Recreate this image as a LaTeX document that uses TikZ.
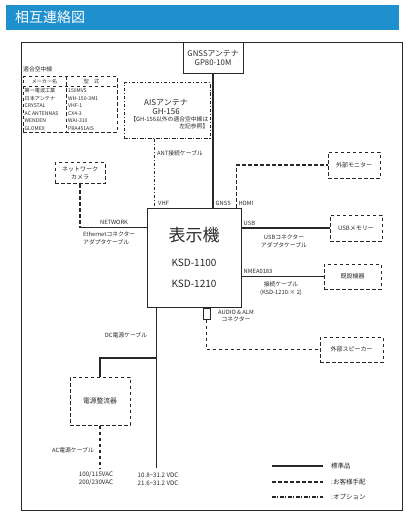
\documentclass[tikz,border=0pt]{standalone}
\usepackage{fontspec}
\setmainfont{Noto Sans CJK JP}
\usetikzlibrary{positioning}
\definecolor{barblue}{RGB}{30,144,206}
\definecolor{ink}{RGB}{40,40,40}
\tikzstyle{titlebar} = [fill=barblue, minimum width=393pt, minimum height=25pt,
  text width=375pt, inner sep=0pt, align=left, text=white, font=\fontsize{14}{14}\selectfont]
\tikzstyle{stdbox} = [draw=ink, line width=1pt, inner sep=0pt, align=center,
  text=ink, font=\fontsize{7.8}{9.5}\selectfont]
\tikzstyle{usrbox} = [stdbox, dash pattern=on 3.5pt off 2.5pt, font=\fontsize{6}{8}\selectfont]
\tikzstyle{optbox} = [stdbox, dash pattern=on 3.5pt off 1.8pt on 0.9pt off 1.8pt]
\tikzstyle{lbl} = [inner sep=0pt, align=center, text=ink, font=\fontsize{5.8}{8}\selectfont]
\tikzstyle{cell} = [inner sep=0pt, anchor=west, text=ink, font=\fontsize{5.1}{6}\selectfont]
\tikzstyle{stdline} = [draw=ink, line width=1.1pt]
\tikzstyle{usrline} = [stdline, dash pattern=on 3.5pt off 2.5pt]
\tikzstyle{optline} = [stdline, dash pattern=on 3.5pt off 1.8pt on 0.9pt off 1.8pt]
\begin{document}
\begin{tikzpicture}[x=1pt, y=-1pt]
    \useasboundingbox (0,0) rectangle (411,516);
    \node[titlebar] (title) at (202.5,17.5) {相互連絡図};
    \draw[draw=ink, line width=0.8pt] (21,42) rectangle (402,510);

    \node[stdbox, minimum width=60pt, minimum height=31pt] (gnss) at (213,58) {GNSSアンテナ\\GP80-10M};
    \node[optbox, minimum width=86pt, minimum height=55pt] (ais) at (167,110.5) {};
    \node[lbl, font=\fontsize{8}{9.5}\selectfont] (aisname) at (166,107) {AISアンテナ\\GH-156};
    \node[lbl, align=right, anchor=north east, font=\fontsize{5.8}{7}\selectfont] (aisnote) at (208.5,116.5) {【GH-156以外の適合空中線は\\左記参照】};

    \node[lbl, anchor=west] (tbltitle) at (23,69) {適合空中線};
    \node[usrbox, minimum width=94pt, minimum height=55pt] (tbl) at (70,104.5) {};
    \draw[usrline, line width=0.8pt] ([yshift=-10pt]tbl.north west) -- ([yshift=-10pt]tbl.north east);
    \draw[usrline, line width=0.8pt] ([xshift=-4pt]tbl.north) -- ([xshift=-4pt]tbl.south);
    \node[cell, anchor=center] (hmaker) at (44.5,82) {メーカー名};
    \node[cell, anchor=center] (hmodel) at (91.5,82) {型\quad 式};
    \foreach \mk/\md [count=\i] in {第一電波工業/150MVS, 日本アンテナ/WH-150-3M1, CRYSTAL/VHF-1,
        AC ANTENNAS/CX4-3, WENDEN/WAI-310, GLOMEX/PRA451AIS}
      {
        \node[cell] (maker\i) at (24.5,{83.25+7.5*\i}) {\mk};
        \node[cell] (model\i) at (68,{83.25+7.5*\i}) {\md};
      }

    \node[stdbox, minimum width=94pt, minimum height=99pt, font=\fontsize{10}{21}\selectfont] (disp) at (194,257.5)
      {{\fontsize{17}{17}\selectfont 表示機}\\[4pt]KSD-1100\\KSD-1210};
    \node[usrbox, minimum width=50pt, minimum height=21pt] (cam) at (80,173) {ネットワーク\\カメラ};
    \node[usrbox, minimum width=52pt, minimum height=26pt] (mon) at (354,165) {外部モニター};
    \node[usrbox, minimum width=52pt, minimum height=26pt] (usbmem) at (356,228) {USBメモリー};
    \node[usrbox, minimum width=57pt, minimum height=25pt] (kisetsu) at (352.5,276.5) {既設機器};
    \node[usrbox, minimum width=63pt, minimum height=25pt] (spk) at (351.5,349.5) {外部スピーカー};
    \node[usrbox, minimum width=60pt, minimum height=48pt, font=\fontsize{6.8}{8}\selectfont] (rect) at (100,401) {電源整流器};
    \node[stdbox, minimum width=7pt, minimum height=11pt, anchor=north] (aud) at ([xshift=12.5pt]disp.south) {};

    \coordinate (pvhf) at ([xshift=8pt]disp.north west);
    \coordinate (phdmi) at ([xshift=-5pt]disp.north east);
    \coordinate (pnet) at ([yshift=-20pt]disp.north west);
    \coordinate (pdc) at ([xshift=10pt]disp.south west);
    \coordinate (dcjoin) at (pdc |- 0,358);
    \coordinate (dcend) at (pdc |- 0,468);
    \coordinate (acend) at (rect.south |- 0,468);

    \draw[stdline] (gnss.south) -- (gnss.south |- disp.north);
    \draw[optline] (ais.south -| pvhf) -- (pvhf);
    \draw[usrline] (phdmi) |- (mon.west);
    \draw[usrline] (cam.south) -- (cam.south |- pnet);
    \draw[stdline] (cam.south |- pnet) -- (pnet);
    \draw[stdline] (disp.east |- usbmem.west) -- (usbmem.west);
    \draw[stdline] (disp.east |- kisetsu.west) -- (kisetsu.west);
    \draw[usrline] (aud.south) |- (spk.west);
    \draw[stdline] (pdc) -- (dcend);
    \draw[stdline] (dcjoin) -| (rect.north);
    \draw[usrline] (rect.south) -- (acend);

    \node[lbl, anchor=west] (antlbl) at (157,153) {ANT接続ケーブル};
    \node[lbl, anchor=west] (vhflbl) at (158,203) {VHF};
    \node[lbl, anchor=west] (gnsslbl) at (215.5,203) {GNSS};
    \node[lbl, anchor=west] (hdmilbl) at (238.5,203) {HDMI};
    \node[lbl] (netlbl) at (114,222.5) {NETWORK};
    \node[lbl, align=left, anchor=north west] (ethlbl) at (83,231.5) {Ethernetコネクター\\アダプタケーブル};
    \node[lbl, anchor=west] (usblbl) at (243.5,223) {USB};
    \node[lbl] (usbcable) at (284,241) {USBコネクター\\アダプタケーブル};
    \node[lbl, anchor=west] (nmealbl) at (243.5,271) {NMEA0183};
    \node[lbl] (nmeacable) at (281,288.5) {接続ケーブル\\(KSD-1210:× 2)};
    \node[lbl, font=\fontsize{5.8}{7.5}\selectfont] (audlbl) at (236,316) {AUDIO \& ALM\\コネクター};
    \node[lbl] (dclbl) at (126,335) {DC電源ケーブル};
    \node[lbl, anchor=east] (aclbl) at (94,450) {AC電源ケーブル};
    \node[lbl, font=\fontsize{6.2}{8}\selectfont] (acvolt) at (96,479) {100/115VAC\\200/230VAC};
    \node[lbl, font=\fontsize{6.2}{8}\selectfont] (dcvolt) at (158,479) {10.8\textasciitilde 31.2 VDC\\21.6\textasciitilde 31.2 VDC};

    \coordinate (lgstd1) at (272,466);
    \coordinate (lgstd2) at (323,466);
    \coordinate (lgusr1) at (272,482);
    \coordinate (lgusr2) at (323,482);
    \coordinate (lgopt1) at (272,497);
    \coordinate (lgopt2) at (323,497);
    \draw[stdline] (lgstd1) -- (lgstd2);
    \draw[usrline] (lgusr1) -- (lgusr2);
    \draw[optline] (lgopt1) -- (lgopt2);
    \node[lbl, anchor=west, font=\fontsize{6.5}{8}\selectfont] (lgstd) at (331,466) {標準品};
    \node[lbl, anchor=west, font=\fontsize{6.5}{8}\selectfont] (lgusr) at (331,482) {:お客様手配};
    \node[lbl, anchor=west, font=\fontsize{6.5}{8}\selectfont] (lgopt) at (331,497) {:オプション};
  \end{tikzpicture}
\end{document}
